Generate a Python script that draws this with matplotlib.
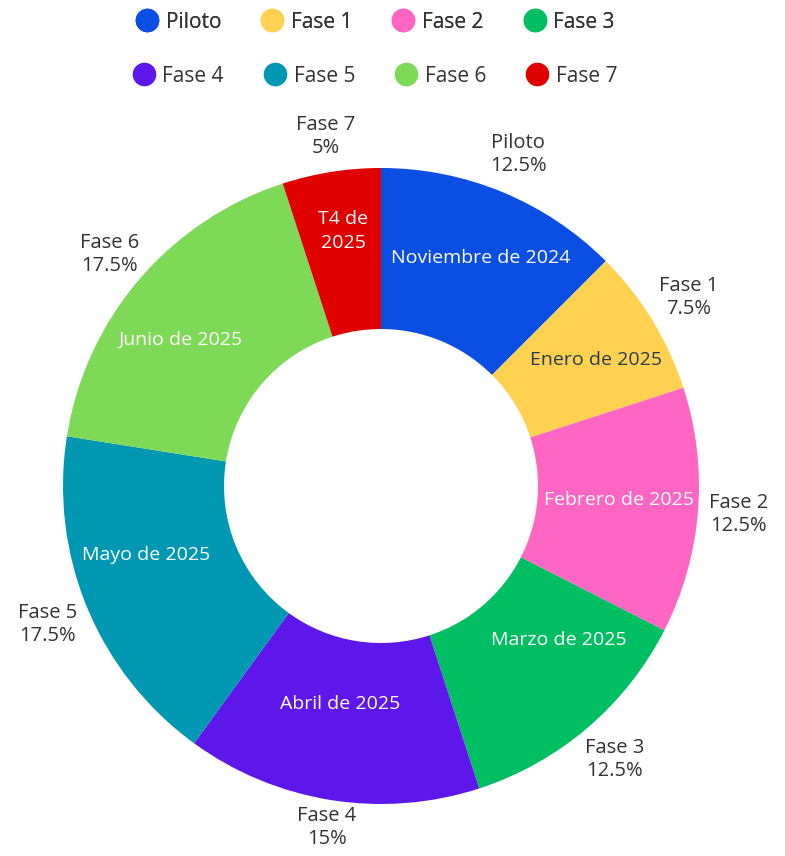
import numpy as np
import matplotlib.pyplot as plt
from matplotlib.lines import Line2D

plt.rcParams['font.family'] = ['Open Sans', 'DejaVu Sans']

fases = ['Piloto', 'Fase 1', 'Fase 2', 'Fase 3', 'Fase 4', 'Fase 5', 'Fase 6', 'Fase 7']
pct = [12.5, 7.5, 12.5, 12.5, 15, 17.5, 17.5, 5]
fechas = ['Noviembre de 2024', 'Enero de 2025', 'Febrero de 2025', 'Marzo de 2025',
          'Abril de 2025', 'Mayo de 2025', 'Junio de 2025', 'T4 de\n2025']
colores = ['#0A4EE4', '#FFD150', '#FF66C4', '#00BF63', '#5E17EB', '#0097B2', '#7ED957', '#E00000']
color_txt = ['white', '#2B3A4E', 'white', 'white', 'white', 'white', 'white', 'white']

# posición de las etiquetas internas (radio en px, desvío angular en grados)
r_int = [249, 249, 238, 235, 222, 245, 248, 258]
d_ang = [-1.2, -1.1, 1.1, 8.5, -1.6, -6.1, 4.5, -0.6]
# radio de las etiquetas externas
r_ext = [359, 361, 359, 360, 346, 361, 357, 354]

W, H = 785, 856
fig = plt.figure(figsize=(W / 100, H / 100), dpi=100)
ax = fig.add_axes([0, 0, 1, 1])

cx, cy = 381, H - 486
r_out, r_in = 318, 157

wedges, _ = ax.pie(pct, colors=colores, startangle=90, counterclock=False,
                   radius=r_out, center=(cx, cy), frame=True,
                   wedgeprops=dict(width=r_out - r_in, linewidth=0))
ax.set_xlim(0, W)
ax.set_ylim(0, H)
ax.axis('off')

for w, f, p, d, tc, ri, da, re in zip(wedges, fases, pct, fechas, color_txt,
                                      r_int, d_ang, r_ext):
    mid = (w.theta1 + w.theta2) / 2
    a_in = np.deg2rad(mid + da)
    ax.text(cx + ri * np.cos(a_in), cy + ri * np.sin(a_in), d,
            ha='center', va='center', fontsize=14, color=tc, linespacing=1.45)
    ang = np.deg2rad(mid)
    ax.text(cx + re * np.cos(ang), cy + re * np.sin(ang),
            f'{f}\n{p:g}%', ha='center', va='center', fontsize=14.5,
            color='#333333', linespacing=1.2)

# leyenda en dos filas independientes
def fila(idx, y):
    handles = [Line2D([], [], marker='o', linestyle='none', markersize=16,
                      markerfacecolor=colores[i], markeredgecolor=colores[i])
               for i in idx]
    leg = fig.legend(handles, [fases[i] for i in idx], ncol=4, loc='center',
                     bbox_to_anchor=(376 / W, 1 - y / H), frameon=False,
                     fontsize=15, handlelength=0.9, handletextpad=0.45,
                     columnspacing=2.0, labelcolor='#333333')
    return leg

fig.add_artist(fila([0, 1, 2, 3], 22))
fila([4, 5, 6, 7], 76)

fig.savefig('out.png', dpi=100, facecolor='white')
